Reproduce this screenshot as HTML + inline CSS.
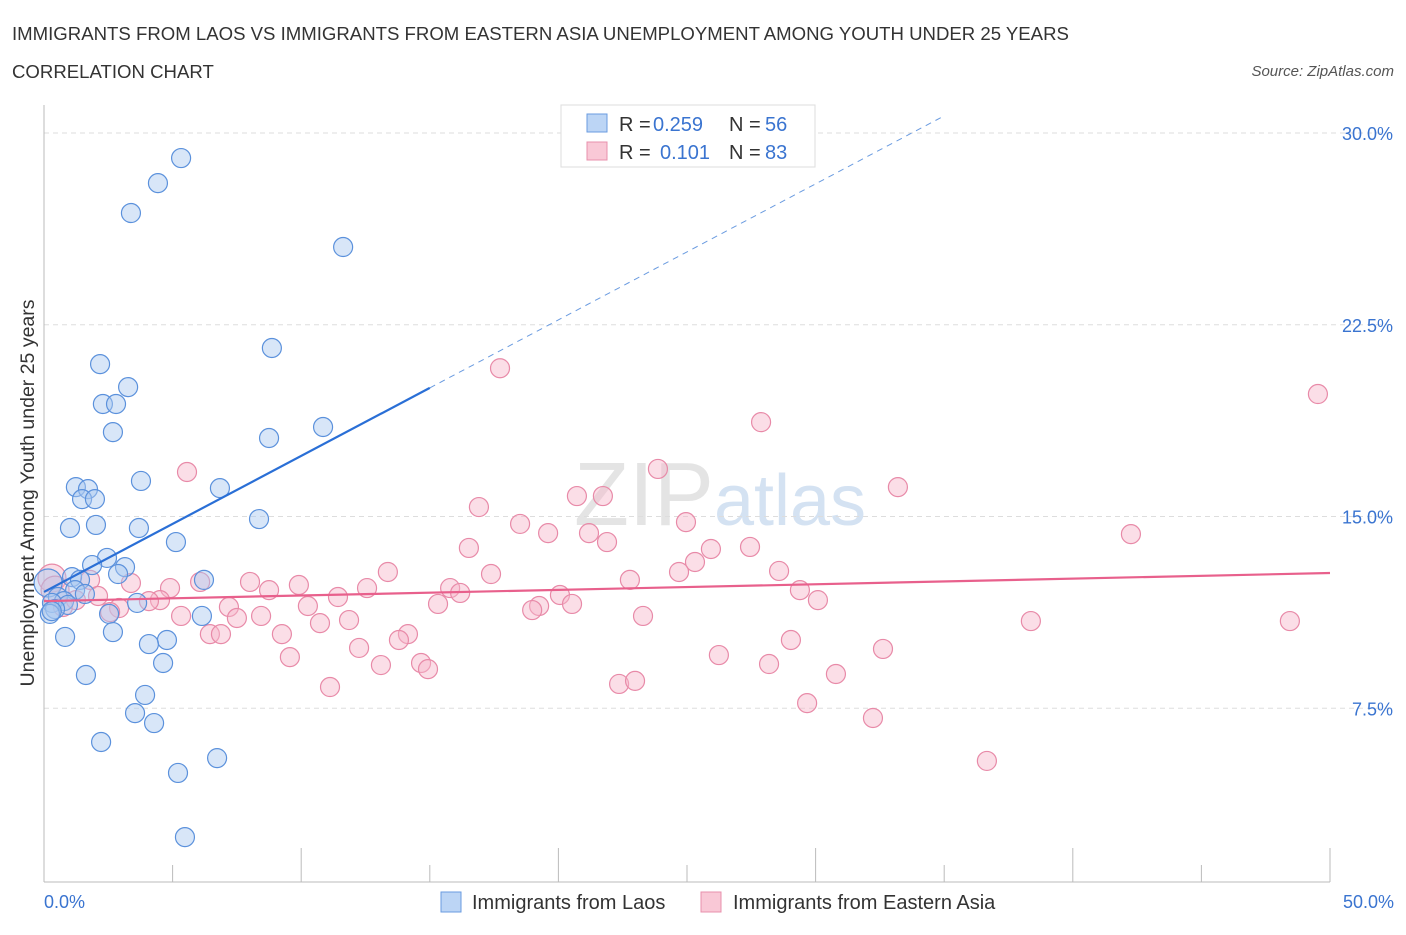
<!DOCTYPE html>
<html><head><meta charset="utf-8"><style>
body{margin:0;background:#fff;font-family:"Liberation Sans",sans-serif}
svg text{font-family:"Liberation Sans",sans-serif}
</style></head><body>
<svg id="c" width="1406" height="930">
<text x="12" y="40" font-size="18.6" fill="#333">IMMIGRANTS FROM LAOS VS IMMIGRANTS FROM EASTERN ASIA UNEMPLOYMENT AMONG YOUTH UNDER 25 YEARS</text>
<text x="12" y="78" font-size="18.6" fill="#333">CORRELATION CHART</text>
<text x="1394" y="76" font-size="15" fill="#555" text-anchor="end" font-style="italic">Source: ZipAtlas.com</text>
<text x="720" y="525" font-size="90" fill="#e4e4e4" text-anchor="middle" font-family="Liberation Serif">ZIP<tspan fill="#d4e2f2" font-family="Liberation Sans" font-size="72">atlas</tspan></text>
<g id="grid"></g><g id="pts"></g><g id="lines"></g>
<text x="34" y="493" font-size="19.5" fill="#333" text-anchor="middle" transform="rotate(-90 34 493)">Unemployment Among Youth under 25 years</text>
<g>
<rect x="561" y="105" width="254" height="62" fill="#fff" stroke="#ddd"/>
<rect x="587" y="114" width="20" height="18" fill="#bcd5f5" stroke="#6a9be0"/>
<rect x="587" y="142" width="20" height="18" fill="#f9c8d6" stroke="#e890ac"/>
<text x="619" y="131" font-size="20" fill="#333">R =</text>
<text x="653" y="131" font-size="20" fill="#3a74d0">0.259</text>
<text x="729" y="131" font-size="20" fill="#333">N =</text>
<text x="765" y="131" font-size="20" fill="#3a74d0">56</text>
<text x="619" y="159" font-size="20" fill="#333">R =</text>
<text x="660" y="159" font-size="20" fill="#3a74d0">0.101</text>
<text x="729" y="159" font-size="20" fill="#333">N =</text>
<text x="765" y="159" font-size="20" fill="#3a74d0">83</text>
</g>
<g>
<rect x="441" y="892" width="20" height="20" fill="#bcd5f5" stroke="#6a9be0"/>
<text x="472" y="909" font-size="20" fill="#333">Immigrants from Laos</text>
<rect x="701" y="892" width="20" height="20" fill="#f9c8d6" stroke="#e890ac"/>
<text x="733" y="909" font-size="20" fill="#333">Immigrants from Eastern Asia</text>
</g>
</svg>
<script>
const yTicks=[7.5,15,22.5,30];
const yTickLabels=["7.5%","15.0%","22.5%","30.0%"];
const xTickLabels=["0.0%","50.0%"];
const laosX=[5.33,4.43,3.38,11.63,8.86,2.18,3.27,2.29,2.80,2.68,10.85,8.75,3.77,1.24,1.71,1.48,1.98,6.84,1.01,2.02,3.69,8.36,5.13,2.45,1.87,3.15,2.88,1.09,1.40,6.22,0.16,1.21,1.59,0.54,0.78,0.31,0.93,0.43,0.23,3.62,2.53,6.14,2.68,0.82,4.78,4.08,4.63,1.63,3.93,3.54,4.28,2.22,6.73,5.21,5.48,0.3];
const laosY=[29.02,28.04,26.87,25.54,21.59,20.96,20.06,19.40,19.40,18.30,18.50,18.07,16.39,16.15,16.07,15.68,15.68,16.11,14.55,14.67,14.55,14.90,14.00,13.38,13.10,13.02,12.75,12.63,12.52,12.52,12.40,12.12,11.97,11.85,11.69,11.62,11.54,11.38,11.19,11.62,11.19,11.11,10.48,10.29,10.17,10.01,9.27,8.80,8.02,7.31,6.92,6.18,5.55,4.97,2.46,11.3];
const easiaX=[17.73,49.53,27.88,5.56,23.87,33.20,20.72,21.73,16.91,18.51,24.96,19.60,21.19,21.89,42.26,16.52,25.93,27.45,25.31,24.69,13.37,17.38,28.58,22.78,0.31,1.79,3.38,8.01,9.91,6.07,4.90,8.75,12.56,15.79,16.18,29.39,11.43,20.06,4.51,4.08,2.10,30.09,15.32,19.25,20.53,18.98,10.26,7.19,2.92,0.74,1.24,2.57,5.33,8.44,23.29,7.50,11.86,10.73,38.37,48.44,6.45,6.88,9.25,14.15,13.80,29.04,12.25,32.62,9.56,26.24,13.10,28.19,14.66,14.93,30.79,11.12,22.36,22.98,29.67,32.23,36.66,0.43];
const easiaY=[20.80,19.79,18.69,16.74,16.86,16.15,15.80,15.80,15.37,14.71,14.78,14.35,14.35,14.00,14.31,13.77,13.73,13.81,13.22,12.83,12.83,12.75,12.87,12.52,12.59,12.52,12.40,12.44,12.32,12.44,12.20,12.12,12.20,12.20,12.01,12.12,11.85,11.93,11.73,11.69,11.89,11.73,11.58,11.50,11.58,11.34,11.50,11.46,11.42,11.46,11.73,11.26,11.11,11.11,11.11,11.03,10.95,10.83,10.91,10.91,10.40,10.40,10.40,10.40,10.17,10.17,9.86,9.82,9.50,9.58,9.19,9.23,9.27,9.03,8.84,8.33,8.45,8.57,7.70,7.12,5.44,12.12];
const laosTrend=[12.05,0.532];
const easiaTrend=[11.69,0.022];
const NS="http://www.w3.org/2000/svg";
const sx=v=>44+v*1286/50, sy=v=>900-v*767/30;
function mk(tag,attrs,parent){const e=document.createElementNS(NS,tag);for(const k in attrs)e.setAttribute(k,attrs[k]);parent.appendChild(e);return e;}
const grid=document.getElementById('grid'),pts=document.getElementById('pts'),lines=document.getElementById('lines');
yTicks.forEach((t,i)=>{
 const l=mk('line',{x1:44,x2:1390,y1:sy(t),y2:sy(t),stroke:'#ddd','stroke-dasharray':'5,4'},grid);
 
 
 const tx=mk('text',{x:1393,y:sy(t)+7,'font-size':18,fill:'#3a74d0','text-anchor':'end'},grid);tx.textContent=yTickLabels[i];
 
 
});
const ax=mk('line',{x1:44,x2:1330,y1:882,y2:882,stroke:'#bbb'},grid);


const ay=mk('line',{x1:44,x2:44,y1:105,y2:882,stroke:'#bbb'},grid);


for(let i=0;i<=10;i++){const v=i*5;const t=mk('line',{x1:sx(v),x2:sx(v),y1:882,y2:i%2==0?848:865,stroke:'#bbb'},grid);
 
 }
[[0,'start',44],[50,'end',1394]].forEach((a,i)=>{const t=mk('text',{x:a[2],y:908,'font-size':18,fill:'#3a74d0','text-anchor':a[1]},grid);t.textContent=xTickLabels[i];
 
 });
function dots(X,Y,fill,stroke,name){X.forEach((x,i)=>{const r=(x<0.5&&Math.abs(Y[i]-12.3)<0.4)?14:9.5;
 const c=mk('circle',{cx:sx(x),cy:sy(Y[i]),r:r,fill:fill,'fill-opacity':0.45,stroke:stroke,'stroke-width':1.2},pts);
 
 });}
dots(easiaX,easiaY,'#f7b6c9','#e88aa8','eastern-asia-point');
dots(laosX,laosY,'#a9c8f0','#5b91dc','laos-point');
const lb=mk('line',{x1:sx(0),y1:sy(laosTrend[0]),x2:sx(15),y2:sy(laosTrend[0]+15*laosTrend[1]),stroke:'#2a6fd6','stroke-width':2.2},lines);


const xe=(30.6-laosTrend[0])/laosTrend[1];
const ld=mk('line',{x1:sx(15),y1:sy(laosTrend[0]+15*laosTrend[1]),x2:sx(xe),y2:sy(30.6),stroke:'#6a9be0','stroke-width':1,'stroke-dasharray':'6,5'},lines);


const lp=mk('line',{x1:sx(0),y1:sy(easiaTrend[0]),x2:sx(50),y2:sy(easiaTrend[0]+50*easiaTrend[1]),stroke:'#e8608c','stroke-width':2.2},lines);


</script>
</body></html>
